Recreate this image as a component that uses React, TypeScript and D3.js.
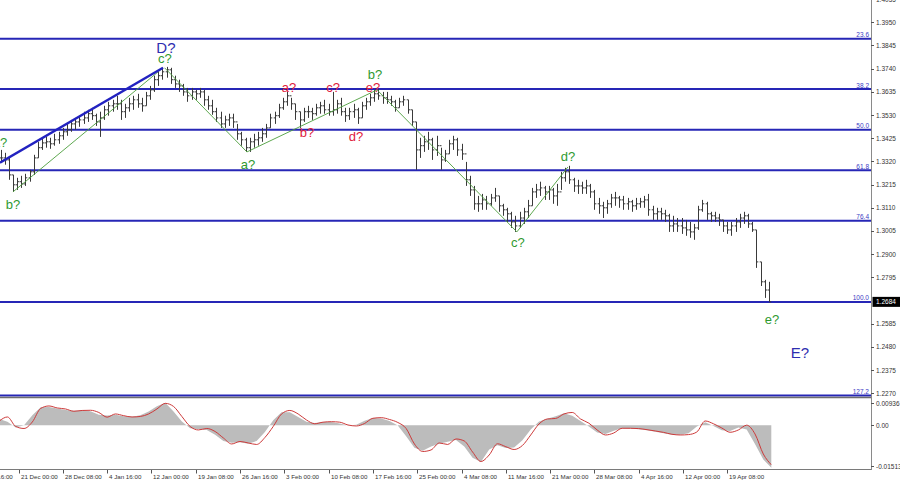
import React from 'react';
import * as d3 from 'd3';

// ---- price bars (H4 chart, one drawn bar every 3 H4 bars) ----
const BAR_START = -13;
const BAR_STEP = 3;
const highs = [
  1.3372, 1.3359, 1.3336, 1.3259, 1.3246, 1.3255, 1.3264, 1.3282, 1.3350, 1.3409,
  1.3427, 1.3431, 1.3427, 1.3445, 1.3454, 1.3472, 1.3490, 1.3508, 1.3517, 1.3527,
  1.3545, 1.3554, 1.3563, 1.3536, 1.3545, 1.3572, 1.3590, 1.3599, 1.3617, 1.3599,
  1.3581, 1.3608, 1.3617, 1.3626, 1.3608, 1.3635, 1.3662, 1.3708, 1.3726, 1.3744,
  1.3748, 1.3744, 1.3708, 1.3690, 1.3671, 1.3653, 1.3653, 1.3644, 1.3653, 1.3644,
  1.3617, 1.3599, 1.3563, 1.3545, 1.3527, 1.3536, 1.3536, 1.3490, 1.3454, 1.3427,
  1.3427, 1.3445, 1.3454, 1.3472, 1.3490, 1.3536, 1.3545, 1.3581, 1.3608, 1.3635,
  1.3608, 1.3581, 1.3545, 1.3563, 1.3572, 1.3563, 1.3581, 1.3590, 1.3599, 1.3581,
  1.3635, 1.3599, 1.3608, 1.3563, 1.3563, 1.3581, 1.3563, 1.3590, 1.3608, 1.3626,
  1.3644, 1.3649, 1.3635, 1.3635, 1.3617, 1.3599, 1.3608, 1.3617, 1.3599, 1.3554,
  1.3499, 1.3427, 1.3436, 1.3454, 1.3427, 1.3436, 1.3382, 1.3372, 1.3418, 1.3436,
  1.3427, 1.3400, 1.3318, 1.3255, 1.3209, 1.3164, 1.3173, 1.3164, 1.3173, 1.3200,
  1.3164, 1.3128, 1.3110, 1.3092, 1.3074, 1.3092, 1.3110, 1.3146, 1.3200, 1.3218,
  1.3228, 1.3209, 1.3209, 1.3200, 1.3218, 1.3273, 1.3291, 1.3300, 1.3246, 1.3237,
  1.3228, 1.3237, 1.3218, 1.3191, 1.3155, 1.3137, 1.3146, 1.3173, 1.3182, 1.3164,
  1.3164, 1.3155, 1.3146, 1.3155, 1.3155, 1.3164, 1.3173, 1.3119, 1.3110, 1.3110,
  1.3101, 1.3083, 1.3074, 1.3064, 1.3064, 1.3055, 1.3046, 1.3037, 1.3119, 1.3146,
  1.3137, 1.3092, 1.3092, 1.3083, 1.3055, 1.3046, 1.3046, 1.3064, 1.3083, 1.3092,
  1.3083, 1.3046, 1.3010, 1.2865, 1.2784, 1.2775,
];
const lows = [
  1.3318, 1.3305, 1.3237, 1.3182, 1.3191, 1.3200, 1.3209, 1.3228, 1.3259, 1.3336,
  1.3372, 1.3382, 1.3377, 1.3391, 1.3400, 1.3418, 1.3436, 1.3454, 1.3463, 1.3477,
  1.3490, 1.3499, 1.3508, 1.3481, 1.3431, 1.3508, 1.3527, 1.3545, 1.3554, 1.3508,
  1.3517, 1.3545, 1.3554, 1.3563, 1.3545, 1.3572, 1.3599, 1.3635, 1.3662, 1.3690,
  1.3699, 1.3671, 1.3653, 1.3635, 1.3617, 1.3590, 1.3599, 1.3599, 1.3608, 1.3572,
  1.3554, 1.3531, 1.3499, 1.3472, 1.3472, 1.3481, 1.3472, 1.3418, 1.3391, 1.3363,
  1.3363, 1.3382, 1.3391, 1.3409, 1.3427, 1.3472, 1.3490, 1.3517, 1.3554, 1.3572,
  1.3554, 1.3508, 1.3472, 1.3499, 1.3517, 1.3508, 1.3527, 1.3536, 1.3536, 1.3527,
  1.3527, 1.3536, 1.3527, 1.3499, 1.3508, 1.3517, 1.3490, 1.3517, 1.3554, 1.3572,
  1.3590, 1.3599, 1.3581, 1.3581, 1.3572, 1.3545, 1.3563, 1.3572, 1.3536, 1.3481,
  1.3282, 1.3336, 1.3363, 1.3372, 1.3327, 1.3345, 1.3282, 1.3318, 1.3354, 1.3372,
  1.3345, 1.3327, 1.3209, 1.3164, 1.3101, 1.3092, 1.3101, 1.3101, 1.3119, 1.3137,
  1.3092, 1.3074, 1.3046, 1.3019, 1.3001, 1.3019, 1.3037, 1.3064, 1.3119, 1.3155,
  1.3164, 1.3146, 1.3146, 1.3128, 1.3119, 1.3191, 1.3228, 1.3218, 1.3182, 1.3173,
  1.3173, 1.3173, 1.3155, 1.3101, 1.3083, 1.3064, 1.3083, 1.3110, 1.3119, 1.3110,
  1.3101, 1.3101, 1.3092, 1.3101, 1.3110, 1.3110, 1.3074, 1.3055, 1.3055, 1.3055,
  1.3046, 1.3001, 1.3001, 1.3001, 1.2992, 1.2983, 1.2974, 1.2965, 1.3010, 1.3092,
  1.3055, 1.3046, 1.3046, 1.3028, 1.3001, 1.2992, 1.2983, 1.3001, 1.3019, 1.3037,
  1.3019, 1.3001, 1.2838, 1.2756, 1.2702, 1.2684,
];
const closes = [
  1.3336, 1.3327, 1.3259, 1.3214, 1.3228, 1.3218, 1.3246, 1.3273, 1.3336, 1.3382,
  1.3404, 1.3409, 1.3400, 1.3418, 1.3436, 1.3454, 1.3463, 1.3490, 1.3499, 1.3508,
  1.3517, 1.3536, 1.3527, 1.3499, 1.3517, 1.3554, 1.3572, 1.3581, 1.3581, 1.3545,
  1.3563, 1.3581, 1.3599, 1.3581, 1.3572, 1.3617, 1.3644, 1.3690, 1.3708, 1.3726,
  1.3735, 1.3690, 1.3671, 1.3662, 1.3635, 1.3617, 1.3635, 1.3626, 1.3635, 1.3599,
  1.3572, 1.3545, 1.3517, 1.3490, 1.3508, 1.3517, 1.3499, 1.3445, 1.3418, 1.3382,
  1.3409, 1.3418, 1.3427, 1.3445, 1.3472, 1.3517, 1.3527, 1.3563, 1.3590, 1.3617,
  1.3581, 1.3545, 1.3508, 1.3545, 1.3545, 1.3536, 1.3563, 1.3572, 1.3554, 1.3545,
  1.3554, 1.3581, 1.3545, 1.3527, 1.3545, 1.3554, 1.3517, 1.3572, 1.3590, 1.3608,
  1.3626, 1.3617, 1.3608, 1.3599, 1.3590, 1.3563, 1.3590, 1.3599, 1.3554, 1.3499,
  1.3372, 1.3391, 1.3409, 1.3418, 1.3372, 1.3391, 1.3327, 1.3354, 1.3400, 1.3418,
  1.3372, 1.3354, 1.3237, 1.3191, 1.3128, 1.3128, 1.3146, 1.3128, 1.3155, 1.3164,
  1.3119, 1.3101, 1.3083, 1.3046, 1.3028, 1.3064, 1.3092, 1.3119, 1.3182, 1.3191,
  1.3200, 1.3182, 1.3191, 1.3164, 1.3182, 1.3246, 1.3273, 1.3237, 1.3209, 1.3209,
  1.3200, 1.3209, 1.3182, 1.3128, 1.3119, 1.3110, 1.3128, 1.3155, 1.3155, 1.3146,
  1.3128, 1.3137, 1.3119, 1.3128, 1.3137, 1.3146, 1.3101, 1.3083, 1.3092, 1.3083,
  1.3074, 1.3028, 1.3037, 1.3028, 1.3019, 1.3010, 1.3001, 1.3019, 1.3101, 1.3128,
  1.3083, 1.3074, 1.3064, 1.3055, 1.3028, 1.3010, 1.3028, 1.3046, 1.3064, 1.3074,
  1.3037, 1.3010, 1.2865, 1.2775, 1.2738, 1.2684,
];

// ---- oscillator (MACD-like: grey histogram + red signal) ----
const OSC_START = -14;
const OSC_STEP = 6;
const oscHist = [
  0.00224, 0.00130, -0.00075, 0.00006, 0.00360, 0.00645, 0.00654, 0.00600, 0.00542, 0.00515,
  0.00533, 0.00497, 0.00375, 0.00348, 0.00375, 0.00321, 0.00307, 0.00361, 0.00494, 0.00682,
  0.00800, 0.00494, 0.00139, -0.00101, -0.00137, -0.00164, -0.00332, -0.00554, -0.00616, -0.00599,
  -0.00652, -0.00554, -0.00235, 0.00183, 0.00467, 0.00467, 0.00299, 0.00125, 0.00086, 0.00123,
  0.00123, 0.00064, -0.00004, 0.00023, 0.00160, 0.00263, 0.00241, 0.00156, -0.00004, -0.00385,
  -0.00794, -0.00900, -0.00749, -0.00652, -0.00581, -0.00519, -0.00749, -0.01150, -0.01300, -0.00852,
  -0.00705, -0.00806, -0.00785, -0.00528, -0.00146, 0.00139, 0.00236, 0.00325, 0.00432, 0.00343,
  0.00153, -0.00043, -0.00252, -0.00306, -0.00187, -0.00103, -0.00109, -0.00134, -0.00176, -0.00224,
  -0.00283, -0.00329, -0.00334, -0.00281, -0.00039, 0.00107, -0.00018, -0.00169, -0.00204, -0.00078,
  -0.00149, -0.00660, -0.01211, -0.01513,
];
const oscSignal = [
  0.00149, 0.00298, -0.00039, -0.00110, 0.00121, 0.00600, 0.00689, 0.00618, 0.00582, 0.00501,
  0.00529, 0.00536, 0.00458, 0.00291, 0.00405, 0.00344, 0.00298, 0.00316, 0.00405, 0.00582,
  0.00781, 0.00671, 0.00316, -0.00039, -0.00163, -0.00110, -0.00217, -0.00447, -0.00660, -0.00572,
  -0.00625, -0.00678, -0.00430, -0.00039, 0.00405, 0.00529, 0.00405, 0.00192, 0.00057, 0.00114,
  0.00131, 0.00114, 0.00014, -0.00021, 0.00067, 0.00252, 0.00273, 0.00209, 0.00103, -0.00110,
  -0.00660, -0.00927, -0.00873, -0.00625, -0.00678, -0.00483, -0.00554, -0.00944, -0.01282, -0.01051,
  -0.00653, -0.00756, -0.00856, -0.00714, -0.00341, 0.00050, 0.00227, 0.00245, 0.00405, 0.00458,
  0.00227, 0.00078, -0.00163, -0.00341, -0.00270, -0.00103, -0.00103, -0.00114, -0.00153, -0.00199,
  -0.00249, -0.00316, -0.00341, -0.00327, -0.00234, 0.00156, 0.00057, -0.00092, -0.00245, -0.00163,
  0.00007, -0.00305, -0.01015, -0.01406,
];
const oscTicks = [0.00936, 0.0, -0.01513];
const oscTickLabels = ['0.00936', '0.00', '-0.01513'];

// ---- axes ----
const timeLabels = [
  '13 Dec 16:00', '21 Dec 00:00', '28 Dec 08:00', '4 Jan 16:00', '12 Jan 00:00', '19 Jan 08:00',
  '26 Jan 16:00', '3 Feb 00:00', '10 Feb 08:00', '17 Feb 16:00', '25 Feb 00:00', '4 Mar 08:00',
  '11 Mar 16:00', '21 Mar 00:00', '28 Mar 08:00', '4 Apr 16:00', '12 Apr 00:00', '19 Apr 08:00',
];
const timeLabelBars = [-32, 0, 32, 64, 96, 128, 160, 192, 224, 256, 288, 320, 352, 384, 416, 448, 480, 512];
const priceTicks = [
  1.4055, 1.3950, 1.3845, 1.3740, 1.3635, 1.3530, 1.3425, 1.3320, 1.3215,
  1.3110, 1.3005, 1.2900, 1.2795, 1.2585, 1.2480, 1.2375, 1.2270,
];
const currentPrice = 1.2684;

// ---- Fibonacci grid ----
const fibHigh = 1.4243;
const fibLow = 1.2684;
const fibLevels = [23.6, 38.2, 50.0, 61.8, 76.4, 100.0, 127.2];

// ---- wave markup ----
const trendLine = [[-13.4, 1.3314], [104.4, 1.3744]];
const waveLines = [
  [[-4, 1.3182], [104.4, 1.3744]],
  [[105.5, 1.3744], [165, 1.3363]],
  [[165, 1.3363], [259, 1.3644]],
  [[259, 1.3644], [360, 1.3001]],
  [[360, 1.3001], [396.9, 1.3295]],
];
const waveLabelText = ['a?', 'b?', 'c?', 'D?', 'a?', 'a?', 'b?', 'c?', 'd?', 'e?', 'b?', 'c?', 'd?', 'e?', 'E?'];
const waveLabelBar = [-13.4, -4, 105.8, 106.5, 165.8, 195.4, 208.4, 227.2, 243.8, 256, 257.5, 360.8, 396.9, 544.3, 564.5];
const waveLabelPrice = [1.3404, 1.3123, 1.3785, 1.3835, 1.3305, 1.3653, 1.3450, 1.3653, 1.3431, 1.3653, 1.3712, 1.2951, 1.3341, 1.2602, 1.2453];
const waveLabelKind = ['g', 'g', 'g', 'B', 'g', 'r', 'r', 'r', 'r', 'r', 'g', 'g', 'g', 'g', 'B'];

const FONT = 'Liberation Sans, Arial, sans-serif';
const COLORS: Record<string, string> = { g: '#2f9a30', r: '#e0203c', B: '#2e2eb0' };

export default function App() {
  const axisX = 871;
  const x = d3.scaleLinear().domain([0, 512]).range([18.5, 727.3]);
  const y = d3.scaleLinear().domain([1.227, 1.395]).range([393.3, 22.3]);
  const yo = d3.scaleLinear().domain([-0.01513, 0.00936]).range([468, 399]);

  // bars path
  let barPath = '';
  closes.forEach((c, k) => {
    const bx = Math.round(x(BAR_START + BAR_STEP * k)) + 0.5;
    const o = k === 0 ? closes[0] : closes[k - 1];
    barPath += `M${bx},${y(highs[k]).toFixed(1)}V${y(lows[k]).toFixed(1)}`;
    barPath += `M${bx - 1.8},${y(o).toFixed(1)}H${bx}`;
    barPath += `M${bx},${y(c).toFixed(1)}H${bx + 1.8}`;
  });

  const oscX = (i: number) => x(OSC_START + OSC_STEP * i);
  const histArea = d3.area<number>().x((_, i) => oscX(i)).y0(yo(0)).y1((d) => yo(d))(oscHist) || '';
  const sigLine = d3.line<number>().x((_, i) => oscX(i)).y((d) => yo(d)).curve(d3.curveMonotoneX)(oscSignal) || '';

  const fibPrice = (r: number) => fibHigh - (r / 100) * (fibHigh - fibLow);

  return (
    <svg width={900} height={485} style={{ position: 'absolute', left: 0, top: 0, background: '#fff' }} fontFamily={FONT}>
      <defs>
        <clipPath id="mainClip"><rect x={0} y={0} width={axisX} height={397} /></clipPath>
        <clipPath id="oscClip"><rect x={0} y={399} width={771.5} height={70} /></clipPath>
      </defs>
      <rect x={0} y={0} width={900} height={485} fill="#fff" />

      <g clipPath="url(#mainClip)">
        {/* fib lines */}
        {fibLevels.map((r) => (
          <line key={r} x1={0} x2={axisX} y1={y(fibPrice(r))} y2={y(fibPrice(r))} stroke="#2626b6" strokeWidth={2} />
        ))}
        {/* price bars */}
        <path d={barPath} stroke="#3a3a3a" strokeWidth={1} fill="none" />
        {/* wave lines */}
        {waveLines.map((s, i) => (
          <line key={i} x1={x(s[0][0])} y1={y(s[0][1])} x2={x(s[1][0])} y2={y(s[1][1])} stroke="#4c9e3c" strokeWidth={0.9} />
        ))}
        <line x1={x(trendLine[0][0])} y1={y(trendLine[0][1])} x2={x(trendLine[1][0])} y2={y(trendLine[1][1])} stroke="#2222c0" strokeWidth={2.4} />
        {/* wave labels */}
        {waveLabelText.map((t, i) => (
          <text key={i} x={x(waveLabelBar[i])} y={y(waveLabelPrice[i])} textAnchor="middle" dominantBaseline="central"
            fontSize={waveLabelKind[i] === 'B' ? 15 : 13} fill={COLORS[waveLabelKind[i]]}>{t}</text>
        ))}
        {/* fib labels */}
        {fibLevels.map((r) => (
          <text key={r} x={axisX - 2} y={y(fibPrice(r)) - 1.5} textAnchor="end" fontSize={6.5} fill="#3b3bc4">{r.toFixed(1)}</text>
        ))}
      </g>

      {/* oscillator */}
      <g clipPath="url(#oscClip)">
        <path d={histArea} fill="#bcbcbc" />
        <path d={sigLine} fill="none" stroke="#cc3a3a" strokeWidth={1} />
      </g>

      {/* frame */}
      <line x1={0} x2={axisX} y1={397.5} y2={397.5} stroke="#6e6e6e" strokeWidth={1.5} />
      <line x1={0} x2={axisX + 0.5} y1={469.5} y2={469.5} stroke="#7a7a7a" strokeWidth={1} />
      <line x1={axisX + 0.5} x2={axisX + 0.5} y1={0} y2={470} stroke="#8a8a8a" strokeWidth={1} />

      {/* price axis */}
      {priceTicks.map((p) => (
        <g key={p}>
          <line x1={axisX} x2={axisX + 3} y1={Math.round(y(p)) + 0.5} y2={Math.round(y(p)) + 0.5} stroke="#555" />
          <text x={axisX + 5} y={y(p)} dominantBaseline="central" fontSize={6.5} fill="#333">{p.toFixed(4)}</text>
        </g>
      ))}
      <rect x={axisX + 1.5} y={y(currentPrice) - 5} width={28} height={10} fill="#000" />
      <text x={axisX + 5} y={y(currentPrice)} dominantBaseline="central" fontSize={6.5} fill="#fff">{currentPrice.toFixed(4)}</text>

      {/* oscillator axis */}
      {oscTicks.map((v, i) => {
        const ty = Math.min(Math.max(yo(v), 403), 466);
        return (
          <g key={i}>
            <line x1={axisX} x2={axisX + 3} y1={Math.round(ty) + 0.5} y2={Math.round(ty) + 0.5} stroke="#555" />
            <text x={axisX + 5} y={ty} dominantBaseline="central" fontSize={6.5} fill="#333">{oscTickLabels[i]}</text>
          </g>
        );
      })}

      {/* time axis */}
      {timeLabels.map((t, i) => {
        const tx = Math.round(x(timeLabelBars[i])) + 0.5;
        return (
          <g key={t}>
            <line x1={tx} x2={tx} y1={470} y2={473.5} stroke="#555" />
            <text x={tx + 1.5} y={479} fontSize={6.2} fill="#333">{t}</text>
          </g>
        );
      })}
    </svg>
  );
}
